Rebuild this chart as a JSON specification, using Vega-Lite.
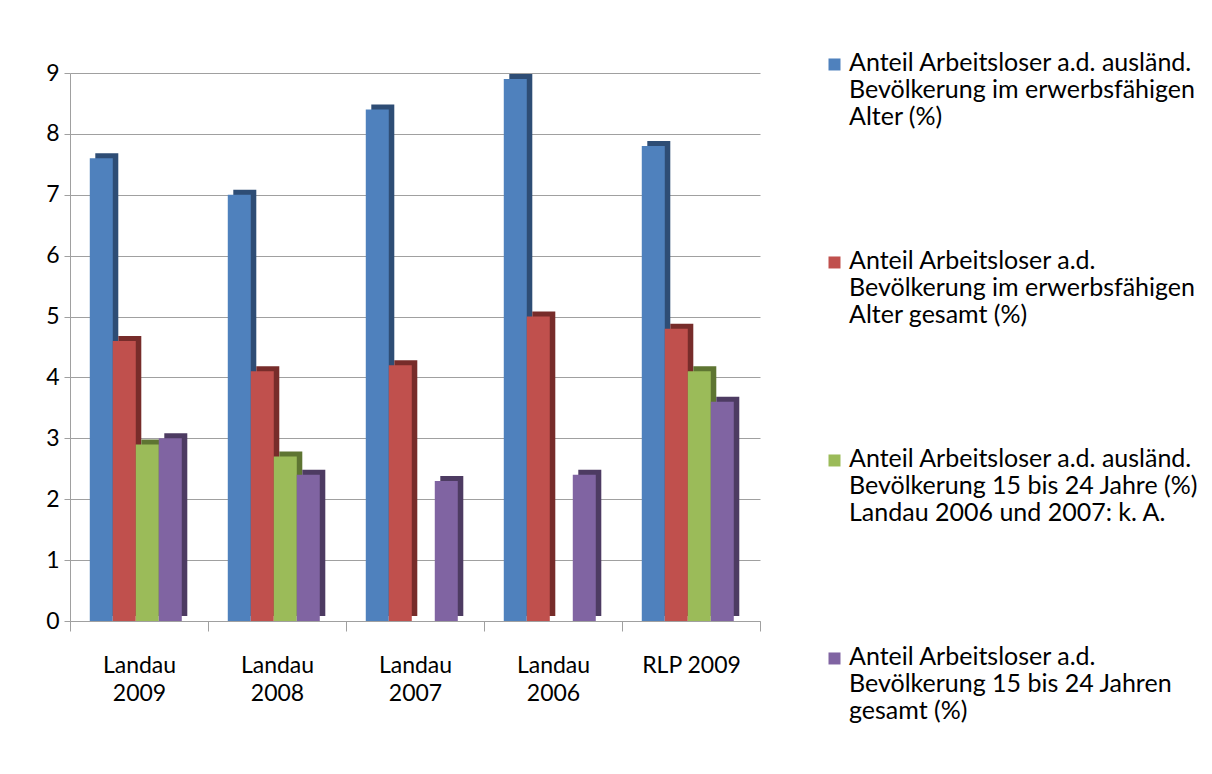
{
  "$schema": "https://vega.github.io/schema/vega-lite/v6.json",
  "width": 690,
  "height": 548,
  "autosize": {"type": "none"},
  "padding": {"left": 70, "top": 73, "right": 452, "bottom": 153},
  "background": "white",
  "config": {
    "font": "Lato",
    "view": {"stroke": null}
  },
  "data": {
    "values": [
      {"kategorie": "Landau 2009", "serie": "A", "wert": 7.6},
      {"kategorie": "Landau 2009", "serie": "B", "wert": 4.6},
      {"kategorie": "Landau 2009", "serie": "C", "wert": 2.9},
      {"kategorie": "Landau 2009", "serie": "D", "wert": 3.0},
      {"kategorie": "Landau 2008", "serie": "A", "wert": 7.0},
      {"kategorie": "Landau 2008", "serie": "B", "wert": 4.1},
      {"kategorie": "Landau 2008", "serie": "C", "wert": 2.7},
      {"kategorie": "Landau 2008", "serie": "D", "wert": 2.4},
      {"kategorie": "Landau 2007", "serie": "A", "wert": 8.4},
      {"kategorie": "Landau 2007", "serie": "B", "wert": 4.2},
      {"kategorie": "Landau 2007", "serie": "C", "wert": 0},
      {"kategorie": "Landau 2007", "serie": "D", "wert": 2.3},
      {"kategorie": "Landau 2006", "serie": "A", "wert": 8.9},
      {"kategorie": "Landau 2006", "serie": "B", "wert": 5.0},
      {"kategorie": "Landau 2006", "serie": "C", "wert": 0},
      {"kategorie": "Landau 2006", "serie": "D", "wert": 2.4},
      {"kategorie": "RLP 2009", "serie": "A", "wert": 7.8},
      {"kategorie": "RLP 2009", "serie": "B", "wert": 4.8},
      {"kategorie": "RLP 2009", "serie": "C", "wert": 4.1},
      {"kategorie": "RLP 2009", "serie": "D", "wert": 3.6}
    ]
  },
  "encoding": {
    "x": {
      "field": "kategorie",
      "type": "nominal",
      "sort": null,
      "scale": {"paddingInner": 0, "paddingOuter": 0},
      "axis": {
        "title": null,
        "labelAngle": 0,
        "labelFontSize": 23,
        "labelColor": "#000000",
        "labelPadding": 23,
        "labelLineHeight": 28,
        "labelExpr": "datum.label == 'RLP 2009' ? 'RLP 2009' : split(datum.label, ' ')",
        "labelBaseline": "top",
        "domainColor": "#A0A0A0",
        "tickColor": "#A0A0A0",
        "tickBand": "extent",
        "tickSize": 10,
        "grid": false
      }
    },
    "y": {
      "field": "wert",
      "type": "quantitative",
      "scale": {"domain": [0, 9], "nice": false},
      "axis": {
        "title": null,
        "values": [0, 1, 2, 3, 4, 5, 6, 7, 8, 9],
        "labelFontSize": 23,
        "labelColor": "#000000",
        "labelPadding": 5,
        "domainColor": "#A0A0A0",
        "tickColor": "#A0A0A0",
        "tickSize": 6,
        "gridColor": "#A0A0A0",
        "gridWidth": 1
      }
    }
  },
  "layer": [
    {
      "mark": {"type": "bar", "stroke": null, "yOffset": -5},
      "encoding": {
        "xOffset": {
          "field": "serie",
          "type": "nominal",
          "scale": {"paddingInner": 0, "paddingOuter": 1.17, "align": 0.55}
        },
        "color": {
          "field": "serie",
          "type": "nominal",
          "scale": {
            "domain": ["A", "B", "C", "D"],
            "range": ["#2E4D75", "#772C2A", "#5E7532", "#4D3B62"]
          },
          "legend": null
        }
      }
    },
    {
      "mark": {"type": "bar", "stroke": null},
      "encoding": {
        "xOffset": {
          "field": "serie",
          "type": "nominal",
          "scale": {"paddingInner": 0, "paddingOuter": 1.17, "align": 0.43}
        },
        "color": {
          "field": "serie",
          "type": "nominal",
          "scale": {
            "domain": ["A", "B", "C", "D"],
            "range": ["#4F81BD", "#C0504D", "#9BBB59", "#8064A2"]
          },
          "legend": {
            "title": null,
            "orient": "none",
            "legendX": 752,
            "legendY": -35,
            "symbolType": "M-1,1.33H1V3.33H-1Z",
            "symbolSize": 144,
            "symbolStrokeWidth": 0,
            "labelFontSize": 25,
            "labelColor": "#000000",
            "labelLimit": 450,
            "labelOffset": 2,
            "labelBaseline": "top",
            "rowPadding": 106,
            "labelExpr": "datum.label == 'A' ? ['Anteil Arbeitsloser a.d. ausländ.', 'Bevölkerung im erwerbsfähigen', 'Alter (%)'] : datum.label == 'B' ? ['Anteil Arbeitsloser a.d.', 'Bevölkerung im erwerbsfähigen', 'Alter gesamt (%)'] : datum.label == 'C' ? ['Anteil Arbeitsloser a.d. ausländ.', 'Bevölkerung 15 bis 24 Jahre (%)', 'Landau 2006 und 2007: k. A.'] : ['Anteil Arbeitsloser a.d.', 'Bevölkerung 15 bis 24 Jahren', 'gesamt (%)']"
          }
        }
      }
    }
  ],
  "resolve": {"scale": {"color": "independent", "xOffset": "independent"}, "legend": {"color": "independent"}}
}
